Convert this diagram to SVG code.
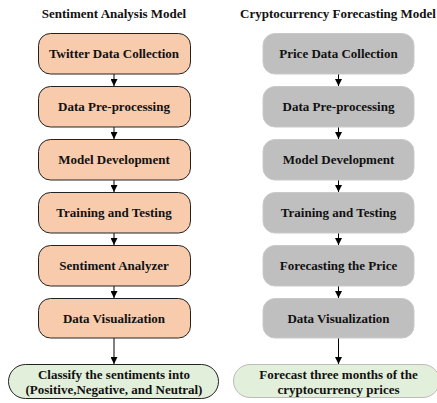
<svg xmlns="http://www.w3.org/2000/svg" width="437" height="403" viewBox="0 0 437 403">
<defs>
<style>
.t{font-family:"Liberation Serif","Times New Roman",serif;font-weight:bold;font-size:13px;fill:#111;text-anchor:middle}
.h{font-family:"Liberation Serif","Times New Roman",serif;font-weight:bold;font-size:13px;fill:#111;text-anchor:middle}
.o{fill:#F8CBAD;stroke:#222;stroke-width:1}
.g{fill:#BFBFBF;stroke:#C9C9C9;stroke-width:1}
.gl{fill:#E2EFDA;stroke:#222;stroke-width:1}
.gr{fill:#E2EFDA;stroke:#BBBBBB;stroke-width:1}
.c{stroke:#000;stroke-width:1;fill:none;marker-end:url(#a)}
</style>
<marker id="a" viewBox="0 0 8 8" refX="8" refY="4" markerWidth="7" markerHeight="7" markerUnits="userSpaceOnUse" orient="auto">
<path d="M0,0 L8,4 L0,8 z" fill="#000"/>
</marker>
</defs>
<rect width="437" height="403" fill="#fff"/>
<text class="h" x="114" y="18">Sentiment Analysis Model</text>
<text class="h" x="338" y="18">Cryptocurrency Forecasting Model</text>
<g id="connectors">
<line class="c" x1="114" y1="74" x2="114" y2="86"/>
<line class="c" x1="114" y1="127" x2="114" y2="139"/>
<line class="c" x1="114" y1="180" x2="114" y2="192"/>
<line class="c" x1="114" y1="233" x2="114" y2="245"/>
<line class="c" x1="114" y1="286" x2="114" y2="298"/>
<line class="c" x1="114" y1="338" x2="114" y2="364"/>
<line class="c" x1="338.5" y1="74" x2="338.5" y2="86"/>
<line class="c" x1="338.5" y1="127" x2="338.5" y2="139"/>
<line class="c" x1="338.5" y1="180" x2="338.5" y2="192"/>
<line class="c" x1="338.5" y1="233" x2="338.5" y2="245"/>
<line class="c" x1="338.5" y1="286" x2="338.5" y2="298"/>
<line class="c" x1="338.5" y1="338" x2="338.5" y2="364"/>
</g>
<g id="s1"><rect class="o" x="38.5" y="33.5" width="152" height="40.5" rx="12"/><text class="t" x="114" y="58">Twitter Data Collection</text></g>
<g id="s2"><rect class="o" x="38.5" y="86.5" width="152" height="40.5" rx="12"/><text class="t" x="114" y="111">Data Pre-processing</text></g>
<g id="s3"><rect class="o" x="38.5" y="139.5" width="152" height="40.5" rx="12"/><text class="t" x="114" y="164">Model Development</text></g>
<g id="s4"><rect class="o" x="38.5" y="192.5" width="152" height="40.5" rx="12"/><text class="t" x="114" y="217">Training and Testing</text></g>
<g id="s5"><rect class="o" x="38.5" y="245.5" width="152" height="40.5" rx="12"/><text class="t" x="114" y="270">Sentiment Analyzer</text></g>
<g id="s6"><rect class="o" x="38.5" y="298.5" width="152" height="39.5" rx="12"/><text class="t" x="114" y="322.5">Data Visualization</text></g>
<g id="s7"><rect class="gl" x="8.5" y="364.5" width="210" height="34" rx="17"/><text class="t" x="114" y="378.5">Classify the sentiments into</text><text class="t" x="114" y="394">(Positive,Negative, and Neutral)</text></g>
<g id="c1"><rect class="g" x="263" y="33.5" width="151" height="40.5" rx="12"/><text class="t" x="338.5" y="58">Price Data Collection</text></g>
<g id="c2"><rect class="g" x="263" y="86.5" width="151" height="40.5" rx="12"/><text class="t" x="338.5" y="111">Data Pre-processing</text></g>
<g id="c3"><rect class="g" x="263" y="139.5" width="151" height="40.5" rx="12"/><text class="t" x="338.5" y="164">Model Development</text></g>
<g id="c4"><rect class="g" x="263" y="192.5" width="151" height="40.5" rx="12"/><text class="t" x="338.5" y="217">Training and Testing</text></g>
<g id="c5"><rect class="g" x="263" y="245.5" width="151" height="40.5" rx="12"/><text class="t" x="338.5" y="270">Forecasting the Price</text></g>
<g id="c6"><rect class="g" x="263" y="298.5" width="151" height="39.5" rx="12"/><text class="t" x="338.5" y="322.5">Data Visualization</text></g>
<g id="c7"><rect class="gr" x="233.5" y="364.5" width="206" height="33" rx="16.5"/><text class="t" x="338.5" y="378.5">Forecast three months of the</text><text class="t" x="338.5" y="394">cryptocurrency prices</text></g>
</svg>
